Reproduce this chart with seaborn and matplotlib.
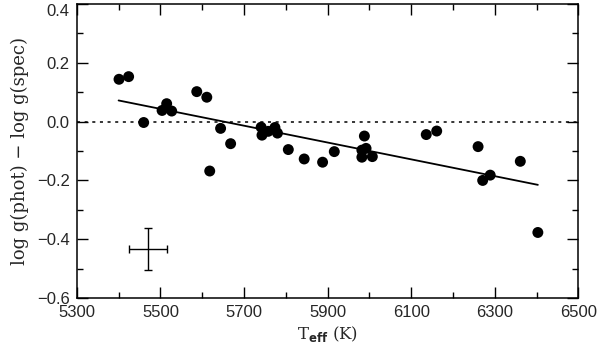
import numpy as np
import pandas as pd
import seaborn as sns
import matplotlib
matplotlib.use('Agg')
import matplotlib.pyplot as plt

# Stars: effective temperature and gravity difference
teff = [5401, 5424, 5460, 5504, 5515, 5527, 5587, 5611, 5618, 5644, 5668,
        5741, 5743, 5758, 5774, 5780, 5806, 5844, 5888, 5916, 5988, 5982,
        5992, 5982, 6007, 6136, 6161, 6260, 6271, 6289, 6361, 6403]
dlogg = [0.144, 0.153, -0.003, 0.038, 0.061, 0.036, 0.102, 0.083, -0.168,
         -0.023, -0.075, -0.019, -0.046, -0.033, -0.020, -0.039, -0.095,
         -0.127, -0.138, -0.102, -0.049, -0.097, -0.091, -0.121, -0.119,
         -0.044, -0.032, -0.085, -0.200, -0.182, -0.135, -0.377]

# linear fit endpoints
fit_teff = [5400, 6403]
fit_dlogg = [0.072, -0.215]

# typical error bar
err_teff, err_dlogg = [5470], [-0.434]
err_x, err_y = 46, 0.071

x_major = [5300, 5500, 5700, 5900, 6100, 6300, 6500]
x_minor = [5400, 5600, 5800, 6000, 6200, 6400]
y_major = [-0.6, -0.4, -0.2, 0.0, 0.2, 0.4]
y_minor = [-0.5, -0.3, -0.1, 0.1, 0.3]

df = pd.DataFrame({'teff': teff, 'dlogg': dlogg})
fit = pd.DataFrame({'teff': fit_teff, 'dlogg': fit_dlogg})

sns.set_style('ticks')
plt.rcParams['font.family'] = ['Liberation Sans', 'DejaVu Sans']

fig = plt.figure(figsize=(6, 3.49), dpi=100)
ax = fig.add_axes([0.128, 0.146, 0.836, 0.8425])

ax.axhline(0, color='black', lw=1.1, ls=(0, (2, 3)))
sns.lineplot(data=fit, x='teff', y='dlogg', color='black', lw=1.3, ax=ax)
sns.scatterplot(data=df, x='teff', y='dlogg', color='black', s=62,
                edgecolor='none', ax=ax)
ax.errorbar(err_teff, err_dlogg, xerr=err_x, yerr=err_y, color='black',
            lw=1, capsize=3, capthick=1, fmt='none')

ax.set_xlim(5300, 6500)
ax.set_ylim(-0.6, 0.4)
ax.set_xticks(x_major)
ax.set_xticks(x_minor, minor=True)
ax.set_yticks(y_major)
ax.set_yticks(y_minor, minor=True)
ax.set_yticklabels([f'{v:.1f}'.replace('-', '\u2212') for v in y_major])
ax.tick_params(which='both', direction='in', top=True, right=True,
               color='black', width=1)
ax.tick_params(which='major', length=8, labelsize=12, pad=5)
ax.tick_params(which='minor', length=4)
ax.get_yticklabels()[-1].set_va('top')
for s in ax.spines.values():
    s.set_linewidth(1.1)
    s.set_color('black')

ax.set_xlabel(r'T$_{\mathbf{eff}}$ (K)', family='DejaVu Serif', fontsize=12,
              labelpad=3)
ax.set_ylabel('log g(phot) \u2212 log g(spec)', family='DejaVu Serif',
              fontsize=13, labelpad=6)

fig.savefig('out.png', dpi=100)
